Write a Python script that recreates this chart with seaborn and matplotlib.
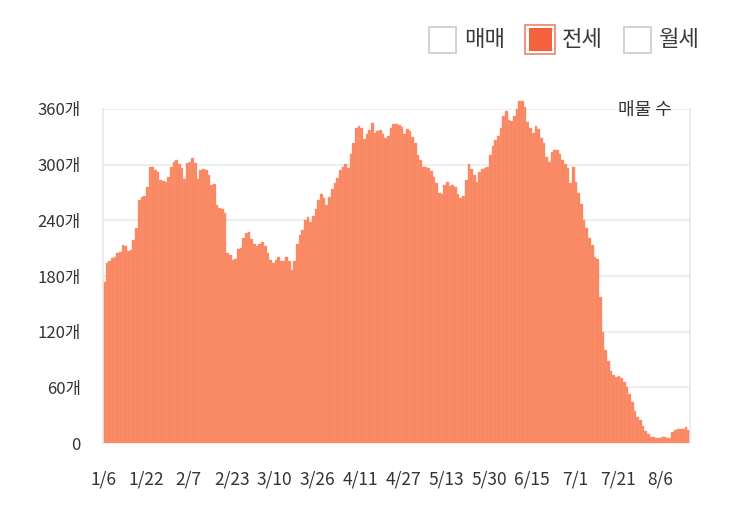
import matplotlib
matplotlib.use('Agg')
import matplotlib.pyplot as plt
import seaborn as sns
import pandas as pd
from matplotlib.patches import Rectangle

# ---- data ----
listings = [
    173, 194, 196, 199, 200, 205, 206, 213, 212, 207,
    208, 219, 232, 262, 265, 266, 276, 297, 298, 294,
    292, 283, 282, 281, 287, 297, 303, 305, 301, 296,
    285, 302, 303, 307, 302, 285, 294, 295, 294, 289,
    278, 279, 256, 253, 252, 248, 205, 203, 197, 198,
    209, 210, 221, 226, 227,
    220, 214, 212, 214, 217, 212, 205, 197, 194, 197,
    200, 196, 196, 200, 196, 186, 196,
    215, 224, 230, 240, 244, 238, 245, 252, 262, 268,
    264, 256, 265, 274, 280, 286, 294, 297, 301, 296,
    312, 323, 340, 342, 339, 328, 333, 337, 345, 334,
    336, 337, 333, 329, 331,
    340, 344, 344, 343, 341, 333, 338, 336, 330, 323,
    310, 305, 298, 298, 296, 293, 287, 280, 270, 268,
    278, 281, 277, 278, 276, 268, 264, 266, 283, 301,
    295, 289, 281, 292, 295, 296,
    297, 310, 320, 327, 331, 340, 352, 358, 348, 347,
    352, 360, 369, 369, 362, 346, 340, 334, 342, 338,
    329, 323, 308, 303, 314, 316, 316, 312, 305, 301,
    296, 280, 298, 281, 270, 258, 240, 232, 221,
    213, 201, 198, 157, 120, 100, 88, 78, 73, 71,
    72, 70, 66, 60, 53, 44, 35, 28, 25, 18,
    13, 10, 7, 6, 5, 5, 7, 7, 5, 5,
    12, 14, 15, 15, 15, 17, 14,
]
date_labels = ['1/6', '1/22', '2/7', '2/23', '3/10', '3/26', '4/11', '4/27',
               '5/13', '5/30', '6/15', '7/1', '7/21', '8/6']
ytick_values = [0, 60, 120, 180, 240, 300, 360]
ytick_labels = ['0', '60개', '120개', '180개', '240개', '300개', '360개']
legend_labels = ['매매', '전세', '월세']
panel_label = '매물 수'

BAR = '#F9865F'
TXT = '#333333'
W, H = 743, 524

sns.set_style('white')
plt.rcParams['font.family'] = ['Noto Sans CJK KR', 'DejaVu Sans']

fig = plt.figure(figsize=(W / 100, H / 100), dpi=100)
ax = fig.add_axes([103 / W, 81 / H, 587 / W, 334 / H])

n = len(listings)
df = pd.DataFrame({'day': list(range(n)), 'count': listings})
sns.barplot(data=df, x='day', y='count', color=BAR, saturation=1,
            width=1.0, linewidth=0.3, edgecolor='#FB9C80', ax=ax)
for p in ax.patches:
    p.set_clip_on(False)

ax.set_xlim(-0.5, n - 0.5)
ax.set_ylim(0, 360)
ax.set_yticks(ytick_values)
ax.set_yticklabels(ytick_labels)
ax.set_xticks([16 * k - 0.5 for k in range(len(date_labels))])
ax.set_xticklabels(date_labels)
ax.set_xlabel('')
ax.set_ylabel('')
ax.tick_params(axis='both', length=0, colors=TXT)
ax.tick_params(axis='y', pad=16, labelsize=12)
ax.tick_params(axis='x', pad=20, labelsize=12.5)

ax.set_axisbelow(True)
ax.yaxis.grid(True, color='#ebebeb', linewidth=1.2)
ax.xaxis.grid(False)
for s in ['top', 'bottom']:
    ax.spines[s].set_visible(False)
for s in ['left', 'right']:
    ax.spines[s].set_color('#e8e8e8')
    ax.spines[s].set_linewidth(1.2)

ax.text(0.995 - (690 - 675) / 587, 1 - (110 - 109) / 334, panel_label,
        transform=ax.transAxes, ha='right', va='center', fontsize=13, color=TXT)


def fx(x):
    return x / W


def fy(y):
    return 1 - y / H


def box(x, y, w, h, **kw):
    fig.add_artist(Rectangle((fx(x), fy(y + h)), w / W, h / H,
                             transform=fig.transFigure, **kw))


box(429, 27, 27, 26, facecolor='white', edgecolor='#c9d0d6', linewidth=1.3)
box(525, 25, 30, 29, facecolor='white', edgecolor='#f08a70', linewidth=1.3)
box(528.5, 28.5, 23, 22, facecolor='#f4613c', edgecolor='none')
box(624, 27, 27, 26, facecolor='white', edgecolor='#c9d0d6', linewidth=1.3)
for x, lab in zip([464, 562, 659], legend_labels):
    fig.text(fx(x), fy(40), lab, ha='left', va='center', fontsize=16, color='#3a3a3a')

fig.savefig('out.png', dpi=100)
